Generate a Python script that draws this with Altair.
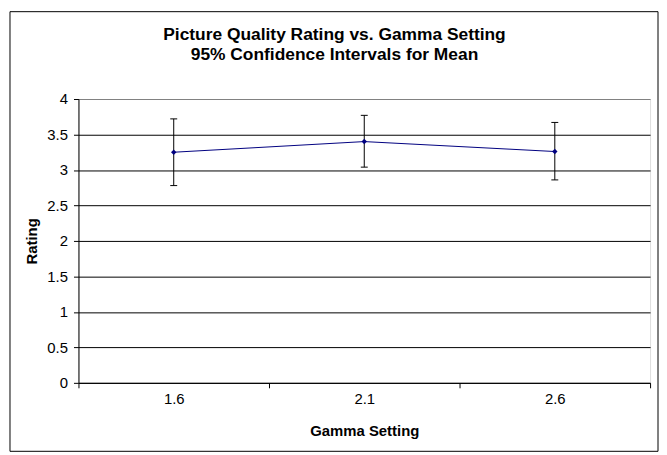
import altair as alt
import pandas as pd

# ---- data ----
gamma = ["1.6", "2.1", "2.6"]
mean_rating = [3.25, 3.40, 3.26]
ci_lower = [2.78, 3.04, 2.86]
ci_upper = [3.72, 3.77, 3.67]
y_ticks = [0, 0.5, 1, 1.5, 2, 2.5, 3, 3.5, 4]
title_lines = ["Picture Quality Rating vs. Gamma Setting", "95% Confidence Intervals for Mean"]

df = pd.DataFrame({"gamma": gamma, "mean": mean_rating, "lo": ci_lower, "hi": ci_upper})

FONT = "Liberation Sans"
W, H = 576, 286
NAVY = "#000080"

x_axis = alt.Axis(
    labelAngle=0, tickBand="extent", tickSize=5, labelPadding=4,
    labelFontSize=15, labelFont=FONT, labelColor="black",
    titleFontSize=15, titleFont=FONT, titleFontWeight="bold", titleColor="black",
    titleY=48, titleBaseline="middle",
    domainColor="black", tickColor="black", grid=False,
)
y_axis = alt.Axis(
    values=y_ticks, format="~g", tickSize=5, labelPadding=6,
    labelFontSize=15, labelFont=FONT, labelColor="black",
    titleFontSize=15, titleFont=FONT, titleFontWeight="bold", titleColor="black",
    titleAngle=270, titleX=-47, titleY=H / 2, titleAlign="center", titleBaseline="middle",
    domainColor="black", tickColor="black",
    grid=True, gridColor={"condition": {"test": "datum.value == 4", "value": "#808080"}, "value": "black"},
    gridOpacity=1,
)


def xe():
    return alt.X("gamma:O", sort=gamma, title="Gamma Setting",
                 scale=alt.Scale(paddingInner=0, paddingOuter=0), axis=x_axis)


def ye(field):
    return alt.Y(f"{field}:Q", title="Rating",
                 scale=alt.Scale(domain=[0, 4], nice=False, zero=True), axis=y_axis)


base = alt.Chart(df)

frame = alt.Chart(pd.DataFrame({"k": [0]})).mark_rect(
    fill="white", fillOpacity=0, stroke="black", strokeWidth=1
).encode(x=alt.value(-69), x2=alt.value(584), y=alt.value(-88), y2=alt.value(355))

bars = base.mark_rule(color="black", strokeWidth=1).encode(x=xe(), y=ye("lo"), y2="hi:Q")
cap_lo = base.mark_tick(color="black", thickness=1, size=7, opacity=1).encode(x=xe(), y=ye("lo"))
cap_hi = base.mark_tick(color="black", thickness=1, size=7, opacity=1).encode(x=xe(), y=ye("hi"))
line = base.mark_line(color=NAVY, strokeWidth=1).encode(x=xe(), y=ye("mean"))
pts = base.mark_point(shape="diamond", filled=True, size=30, color=NAVY, opacity=1).encode(x=xe(), y=ye("mean"))

chart = alt.layer(frame, bars, cap_lo, cap_hi, line, pts).properties(
    width=W, height=H,
    title=alt.TitleParams(
        title_lines, fontSize=17.5, font=FONT, fontWeight="bold", color="black",
        anchor="middle", frame="group", dx=-30, offset=-53, lineHeight=20,
    ),
    autosize=alt.AutoSizeParams(type="none"),
    padding={"left": 71, "top": 90, "right": 9, "bottom": 70},
).configure_view(stroke="#a0a0a0", strokeWidth=1).configure(background="white")

chart.save("out.html", embed_options={"renderer": "svg", "actions": False})
